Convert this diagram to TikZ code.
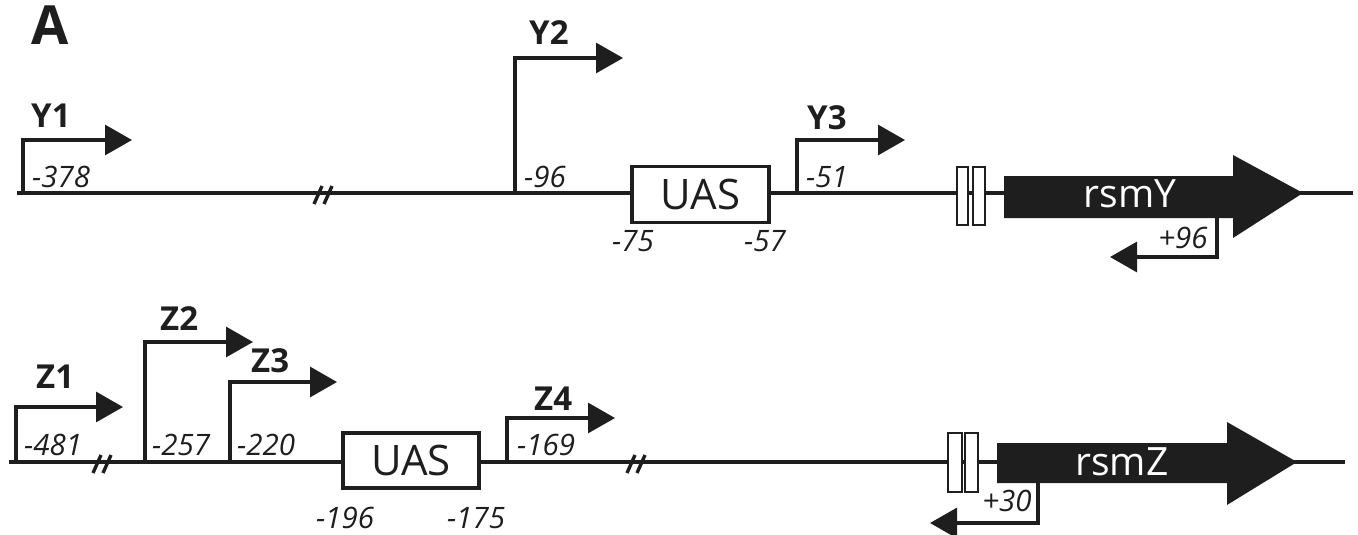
\documentclass[tikz,border=0pt]{standalone}
\usepackage{fontspec}
\setmainfont{Open Sans}
\usetikzlibrary{arrows.meta}
\definecolor{ink}{RGB}{30,30,30}
\tikzset{
  dna/.style={line width=3.8pt, draw=ink},
  prom/.style={line width=3.1pt, draw=ink, -{Triangle[length=27pt,width=30pt]}},
  plabel/.style={font=\fontsize{33}{33}\selectfont\bfseries, text=ink, inner sep=0pt, anchor=base west},
  coordlbl/.style={font=\fontsize{29.5}{29.5}\selectfont\itshape, text=ink, inner sep=0pt, text depth=0pt},
  uas/.style={draw=ink, line width=3.4pt, fill=white, minimum width=137pt, minimum height=56pt, inner sep=0pt, font=\fontsize{42}{42}\selectfont, text=ink},
  term/.style={draw=ink, line width=2.6pt, fill=white},
  gene/.style={fill=ink},
  genetxt/.style={font=\fontsize{39}{39}\selectfont, text=white, inner sep=0pt},
  brk/.style={line width=3.4pt, draw=ink},
}
\begin{document}
\begin{tikzpicture}[x=1pt,y=-1pt]
\useasboundingbox (0,0) rectangle (1358,535);
\node[font=\fontsize{54}{54}\selectfont\bfseries, text=ink, inner sep=0pt, anchor=base west] (A) at (31,45) {A};

% ---------- top: rsmY ----------
\coordinate (ys) at (17,193);
\coordinate (ye) at (1353,193);
\draw[dna] (ys) -- (ye);
% breaks
\draw[brk] (314,204) -- (322,186) (324,204) -- (332,186);
% Y1
\coordinate (y1) at (23,194);
\coordinate (y1t) at (132,140);
\draw[prom] (y1) |- (y1t);
\node[plabel] (Y1l) at (31,128) {Y1};
\node[coordlbl, anchor=base west] (y1n) at (32,187) {-378};
% Y2
\coordinate (y2) at (515,194);
\coordinate (y2t) at (623,58);
\draw[prom] (y2) |- (y2t);
\node[plabel] (Y2l) at (529,45) {Y2};
\node[coordlbl, anchor=base west] (y2n) at (524,187) {-96};
% UAS
\node[uas] (uasY) at (700.5,194.5) {UAS};
\node[coordlbl, anchor=base] (m75) at (633,251) {-75};
\node[coordlbl, anchor=base] (m57) at (765,251) {-57};
% Y3
\coordinate (y3) at (797,194);
\coordinate (y3t) at (905,140);
\draw[prom] (y3) |- (y3t);
\node[plabel] (Y3l) at (807,129) {Y3};
\node[coordlbl, anchor=base west] (y3n) at (806,187) {-51};
% terminator boxes
\draw[term] (957,167) rectangle (968,225);
\draw[term] (973,167) rectangle (985,225);
% gene
\path[gene] (1004,176) -- (1233,176) -- (1233,155) -- (1303,193) -- (1233,238) -- (1233,218) -- (1004,218) -- cycle;
\node[genetxt, anchor=base] (rsmY) at (1130,207) {rsmY};
% reverse
\coordinate (ry) at (1217,217);
\coordinate (ryt) at (1110,257);
\draw[prom] (ry) |- (ryt);
\node[coordlbl, anchor=base] (p96) at (1183,248) {+96};

% ---------- bottom: rsmZ ----------
\coordinate (zs) at (9,462);
\coordinate (ze) at (1345,462);
\draw[dna] (zs) -- (ze);
\draw[brk] (93,473) -- (101,455) (103,473) -- (111,455);
\draw[brk] (627,473) -- (635,455) (637,473) -- (645,455);
% Z1
\coordinate (z1) at (16,463);
\coordinate (z1t) at (123,407);
\draw[prom] (z1) |- (z1t);
\node[plabel] (Z1l) at (36,388) {Z1};
\node[coordlbl, anchor=base west] (z1n) at (24,455) {-481};
% Z2
\coordinate (z2) at (145,463);
\coordinate (z2t) at (253,342);
\draw[prom] (z2) |- (z2t);
\node[plabel] (Z2l) at (160,330) {Z2};
\node[coordlbl, anchor=base west] (z2n) at (152,455) {-257};
% Z3
\coordinate (z3) at (230,463);
\coordinate (z3t) at (337,382);
\draw[prom] (z3) |- (z3t);
\node[plabel] (Z3l) at (251,372) {Z3};
\node[coordlbl, anchor=base west] (z3n) at (237,455) {-220};
% UAS
\node[uas, minimum width=136pt, minimum height=55pt] (uasZ) at (411,460.5) {UAS};
\node[coordlbl, anchor=base] (m196) at (345,528) {-196};
\node[coordlbl, anchor=base] (m175) at (476,528) {-175};
% Z4
\coordinate (z4) at (507,463);
\coordinate (z4t) at (615,418);
\draw[prom] (z4) |- (z4t);
\node[plabel] (Z4l) at (534,410) {Z4};
\node[coordlbl, anchor=base west] (z4n) at (517,455) {-169};
% terminator boxes
\draw[term] (948,433) rectangle (962,492);
\draw[term] (965,433) rectangle (978,492);
% gene
\path[gene] (997,443) -- (1227,443) -- (1227,422) -- (1297,462) -- (1227,505) -- (1227,483) -- (997,483) -- cycle;
\node[genetxt, anchor=base] (rsmZ) at (1122,475) {rsmZ};
% reverse
\coordinate (rz) at (1038,482);
\coordinate (rzt) at (930,523);
\draw[prom] (rz) |- (rzt);
\node[coordlbl, anchor=base] (p30) at (1007,511) {+30};
\end{tikzpicture}
\end{document}
